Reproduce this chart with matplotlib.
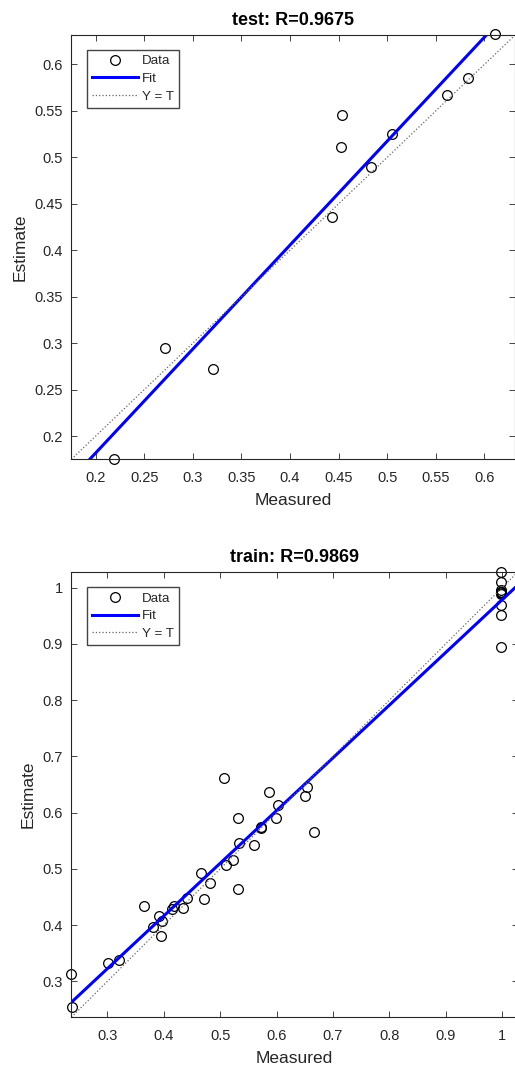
import matplotlib
matplotlib.use("Agg")
import matplotlib.pyplot as plt
from matplotlib.ticker import MultipleLocator, FuncFormatter

# test set: measured (targets) vs estimate (outputs)
test_measured = [0.2185, 0.271, 0.321, 0.443, 0.4536, 0.4526, 0.4828, 0.5047, 0.561, 0.5829, 0.611]
test_estimate = [0.1753, 0.295, 0.272, 0.4355, 0.5459, 0.5108, 0.490, 0.5247, 0.5674, 0.5857, 0.6323]
test_R = 0.9675
test_fit = (1.1187, -0.0419)   # slope, intercept

# train set
train_measured = [0.235, 0.2373, 0.3012, 0.3207, 0.3644, 0.3816, 0.3916, 0.397, 0.3946,
                  0.4153, 0.4188, 0.4342, 0.4419, 0.4667, 0.472, 0.4821, 0.5075, 0.5099,
                  0.5223, 0.5318, 0.5318, 0.5335, 0.5607, 0.572, 0.5731, 0.5867, 0.5998,
                  0.6021, 0.650, 0.6541, 0.6666,
                  0.999, 0.999, 0.999, 0.999, 0.999, 0.999, 0.999, 0.999, 0.999, 0.999]
train_estimate = [0.313, 0.2544, 0.3326, 0.3373, 0.4344, 0.3965, 0.4155, 0.4078, 0.380,
                  0.4285, 0.4333, 0.4303, 0.4481, 0.4925, 0.4463, 0.4747, 0.6624, 0.5073,
                  0.515, 0.5896, 0.4641, 0.5452, 0.5416, 0.5742, 0.5724, 0.6364, 0.5896,
                  0.6127, 0.6287, 0.6459, 0.5659,
                  1.028, 1.0107, 0.9959, 0.9929, 0.990, 0.992, 0.988, 0.9692, 0.9514, 0.8952]
train_R = 0.9869
train_fit = (0.9369, 0.0415)

plt.rcParams['font.family'] = ['Liberation Sans', 'DejaVu Sans']
TXT = '#262626'

fig = plt.figure(figsize=(5.15, 10.76), dpi=100)
ax1 = fig.add_axes([0.1385, 0.5731, 0.8617, 0.3943])
ax2 = fig.add_axes([0.1385, 0.05455, 0.867, 0.4139])


def panel(ax, meas, est, fit, name, R, lims, step):
    ax.plot(meas, est, 'o', mfc='none', mec='black', ms=7, mew=0.9, label='Data',
            clip_on=False)
    ax.axline((0, fit[1]), slope=fit[0], color='blue', lw=2.2, label='Fit')
    ax.axline((0, 0), (1, 1), color='#666666', lw=0.9, ls=':', label='Y = T')
    ax.set_xlim(lims)
    ax.set_ylim(lims)
    ax.xaxis.set_major_locator(MultipleLocator(step))
    ax.yaxis.set_major_locator(MultipleLocator(step))
    fmt = FuncFormatter(lambda v, p: f'{v:g}')
    ax.xaxis.set_major_formatter(fmt)
    ax.yaxis.set_major_formatter(fmt)
    ax.tick_params(direction='in', top=True, right=True, length=4, width=0.6,
                   labelsize=10.5, labelcolor=TXT, color=TXT, pad=6)
    ax.tick_params(axis='x', pad=8.5)
    for s in ax.spines.values():
        s.set_color(TXT)
        s.set_linewidth(0.8)
    ax.set_xlabel('Measured', fontsize=12.5, color=TXT, labelpad=6)
    ax.set_ylabel('Estimate', fontsize=12.5, color=TXT, labelpad=5)
    ax.set_title(f'{name}: R={R}', fontsize=13, fontweight='bold', pad=7)
    leg = ax.legend(loc='upper left', bbox_to_anchor=(0.035, 0.966), borderaxespad=0,
                    fontsize=9.6, numpoints=1, fancybox=False, framealpha=1,
                    edgecolor='#444444', handlelength=3.4, handletextpad=0.3,
                    labelspacing=0.4, borderpad=0.4)
    leg.get_frame().set_linewidth(1.0)
    for t in leg.get_texts():
        t.set_color(TXT)


panel(ax1, test_measured, test_estimate, test_fit, 'test', test_R, (0.175, 0.6315), 0.05)
panel(ax2, train_measured, train_estimate, train_fit, 'train', train_R, (0.236, 1.028), 0.1)

fig.savefig('out.png', dpi=100)
